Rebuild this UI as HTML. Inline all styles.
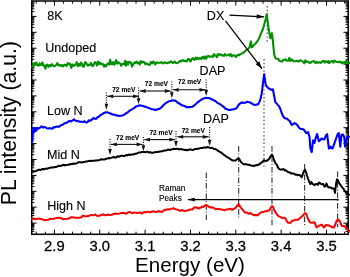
<!DOCTYPE html>
<html><head><meta charset="utf-8"><style>
html,body{margin:0;padding:0;background:#fff;width:350px;height:277px;overflow:hidden;}
svg{display:block;will-change:transform;filter:blur(0.3px);}
</style></head><body>
<svg width="350" height="277" viewBox="0 0 350 277"><style>text{stroke:#000;stroke-width:0.12px;paint-order:stroke;}.tl{stroke-width:0.26px}.ax{stroke-width:0.02px}</style>
<rect width="350" height="277" fill="#fff"/>
<line x1="267.2" y1="6.0" x2="267.2" y2="44.0" stroke="#333" stroke-width="1.1" stroke-dasharray="1.4,2.4"/>
<line x1="264.0" y1="59.0" x2="264.0" y2="169.0" stroke="#333" stroke-width="1.1" stroke-dasharray="1.4,2.4"/>
<line x1="206.3" y1="172.5" x2="206.3" y2="220.0" stroke="#333" stroke-width="1.1" stroke-dasharray="5.7,1.9,1,1.9"/>
<line x1="238.7" y1="146.0" x2="238.7" y2="218.5" stroke="#333" stroke-width="1.1" stroke-dasharray="5.7,1.9,1,1.9"/>
<line x1="272.0" y1="146.0" x2="272.0" y2="226.0" stroke="#333" stroke-width="1.1" stroke-dasharray="5.7,1.9,1,1.9"/>
<line x1="304.6" y1="164.0" x2="304.6" y2="226.0" stroke="#333" stroke-width="1.1" stroke-dasharray="5.7,1.9,1,1.9"/>
<line x1="337.6" y1="171.5" x2="337.6" y2="227.0" stroke="#333" stroke-width="1.1" stroke-dasharray="5.7,1.9,1,1.9"/>
<path d="M36.26 234.30v-2.60 M36.26 1.00v2.60 M45.33 234.30v-2.60 M45.33 1.00v2.60 M54.40 234.30v-4.60 M54.40 1.00v4.60 M63.47 234.30v-2.60 M63.47 1.00v2.60 M72.54 234.30v-2.60 M72.54 1.00v2.60 M81.61 234.30v-2.60 M81.61 1.00v2.60 M90.68 234.30v-2.60 M90.68 1.00v2.60 M99.75 234.30v-4.60 M99.75 1.00v4.60 M108.82 234.30v-2.60 M108.82 1.00v2.60 M117.89 234.30v-2.60 M117.89 1.00v2.60 M126.96 234.30v-2.60 M126.96 1.00v2.60 M136.03 234.30v-2.60 M136.03 1.00v2.60 M145.10 234.30v-4.60 M145.10 1.00v4.60 M154.17 234.30v-2.60 M154.17 1.00v2.60 M163.24 234.30v-2.60 M163.24 1.00v2.60 M172.31 234.30v-2.60 M172.31 1.00v2.60 M181.38 234.30v-2.60 M181.38 1.00v2.60 M190.45 234.30v-4.60 M190.45 1.00v4.60 M199.52 234.30v-2.60 M199.52 1.00v2.60 M208.59 234.30v-2.60 M208.59 1.00v2.60 M217.66 234.30v-2.60 M217.66 1.00v2.60 M226.73 234.30v-2.60 M226.73 1.00v2.60 M235.80 234.30v-4.60 M235.80 1.00v4.60 M244.87 234.30v-2.60 M244.87 1.00v2.60 M253.94 234.30v-2.60 M253.94 1.00v2.60 M263.01 234.30v-2.60 M263.01 1.00v2.60 M272.08 234.30v-2.60 M272.08 1.00v2.60 M281.15 234.30v-4.60 M281.15 1.00v4.60 M290.22 234.30v-2.60 M290.22 1.00v2.60 M299.29 234.30v-2.60 M299.29 1.00v2.60 M308.36 234.30v-2.60 M308.36 1.00v2.60 M317.43 234.30v-2.60 M317.43 1.00v2.60 M326.50 234.30v-4.60 M326.50 1.00v4.60 M335.57 234.30v-2.60 M335.57 1.00v2.60 M344.64 234.30v-2.60 M344.64 1.00v2.60 M31.75 16.40h4.80 M348.20 16.40h-4.80 M31.75 11.61h2.60 M348.20 11.61h-2.60 M31.75 8.81h2.60 M348.20 8.81h-2.60 M31.75 6.83h2.60 M348.20 6.83h-2.60 M31.75 5.29h2.60 M348.20 5.29h-2.60 M31.75 4.03h2.60 M348.20 4.03h-2.60 M31.75 2.96h2.60 M348.20 2.96h-2.60 M31.75 2.04h2.60 M348.20 2.04h-2.60 M31.75 32.30h4.80 M348.20 32.30h-4.80 M31.75 27.51h2.60 M348.20 27.51h-2.60 M31.75 24.71h2.60 M348.20 24.71h-2.60 M31.75 22.73h2.60 M348.20 22.73h-2.60 M31.75 21.19h2.60 M348.20 21.19h-2.60 M31.75 19.93h2.60 M348.20 19.93h-2.60 M31.75 18.86h2.60 M348.20 18.86h-2.60 M31.75 17.94h2.60 M348.20 17.94h-2.60 M31.75 17.13h2.60 M348.20 17.13h-2.60 M31.75 48.20h4.80 M348.20 48.20h-4.80 M31.75 43.41h2.60 M348.20 43.41h-2.60 M31.75 40.61h2.60 M348.20 40.61h-2.60 M31.75 38.63h2.60 M348.20 38.63h-2.60 M31.75 37.09h2.60 M348.20 37.09h-2.60 M31.75 35.83h2.60 M348.20 35.83h-2.60 M31.75 34.76h2.60 M348.20 34.76h-2.60 M31.75 33.84h2.60 M348.20 33.84h-2.60 M31.75 33.03h2.60 M348.20 33.03h-2.60 M31.75 64.10h4.80 M348.20 64.10h-4.80 M31.75 59.31h2.60 M348.20 59.31h-2.60 M31.75 56.51h2.60 M348.20 56.51h-2.60 M31.75 54.53h2.60 M348.20 54.53h-2.60 M31.75 52.99h2.60 M348.20 52.99h-2.60 M31.75 51.73h2.60 M348.20 51.73h-2.60 M31.75 50.66h2.60 M348.20 50.66h-2.60 M31.75 49.74h2.60 M348.20 49.74h-2.60 M31.75 48.93h2.60 M348.20 48.93h-2.60 M31.75 80.00h4.80 M348.20 80.00h-4.80 M31.75 75.21h2.60 M348.20 75.21h-2.60 M31.75 72.41h2.60 M348.20 72.41h-2.60 M31.75 70.43h2.60 M348.20 70.43h-2.60 M31.75 68.89h2.60 M348.20 68.89h-2.60 M31.75 67.63h2.60 M348.20 67.63h-2.60 M31.75 66.56h2.60 M348.20 66.56h-2.60 M31.75 65.64h2.60 M348.20 65.64h-2.60 M31.75 64.83h2.60 M348.20 64.83h-2.60 M31.75 95.90h4.80 M348.20 95.90h-4.80 M31.75 91.11h2.60 M348.20 91.11h-2.60 M31.75 88.31h2.60 M348.20 88.31h-2.60 M31.75 86.33h2.60 M348.20 86.33h-2.60 M31.75 84.79h2.60 M348.20 84.79h-2.60 M31.75 83.53h2.60 M348.20 83.53h-2.60 M31.75 82.46h2.60 M348.20 82.46h-2.60 M31.75 81.54h2.60 M348.20 81.54h-2.60 M31.75 80.73h2.60 M348.20 80.73h-2.60 M31.75 111.80h4.80 M348.20 111.80h-4.80 M31.75 107.01h2.60 M348.20 107.01h-2.60 M31.75 104.21h2.60 M348.20 104.21h-2.60 M31.75 102.23h2.60 M348.20 102.23h-2.60 M31.75 100.69h2.60 M348.20 100.69h-2.60 M31.75 99.43h2.60 M348.20 99.43h-2.60 M31.75 98.36h2.60 M348.20 98.36h-2.60 M31.75 97.44h2.60 M348.20 97.44h-2.60 M31.75 96.63h2.60 M348.20 96.63h-2.60 M31.75 127.70h4.80 M348.20 127.70h-4.80 M31.75 122.91h2.60 M348.20 122.91h-2.60 M31.75 120.11h2.60 M348.20 120.11h-2.60 M31.75 118.13h2.60 M348.20 118.13h-2.60 M31.75 116.59h2.60 M348.20 116.59h-2.60 M31.75 115.33h2.60 M348.20 115.33h-2.60 M31.75 114.26h2.60 M348.20 114.26h-2.60 M31.75 113.34h2.60 M348.20 113.34h-2.60 M31.75 112.53h2.60 M348.20 112.53h-2.60 M31.75 143.60h4.80 M348.20 143.60h-4.80 M31.75 138.81h2.60 M348.20 138.81h-2.60 M31.75 136.01h2.60 M348.20 136.01h-2.60 M31.75 134.03h2.60 M348.20 134.03h-2.60 M31.75 132.49h2.60 M348.20 132.49h-2.60 M31.75 131.23h2.60 M348.20 131.23h-2.60 M31.75 130.16h2.60 M348.20 130.16h-2.60 M31.75 129.24h2.60 M348.20 129.24h-2.60 M31.75 128.43h2.60 M348.20 128.43h-2.60 M31.75 159.50h4.80 M348.20 159.50h-4.80 M31.75 154.71h2.60 M348.20 154.71h-2.60 M31.75 151.91h2.60 M348.20 151.91h-2.60 M31.75 149.93h2.60 M348.20 149.93h-2.60 M31.75 148.39h2.60 M348.20 148.39h-2.60 M31.75 147.13h2.60 M348.20 147.13h-2.60 M31.75 146.06h2.60 M348.20 146.06h-2.60 M31.75 145.14h2.60 M348.20 145.14h-2.60 M31.75 144.33h2.60 M348.20 144.33h-2.60 M31.75 175.40h4.80 M348.20 175.40h-4.80 M31.75 170.61h2.60 M348.20 170.61h-2.60 M31.75 167.81h2.60 M348.20 167.81h-2.60 M31.75 165.83h2.60 M348.20 165.83h-2.60 M31.75 164.29h2.60 M348.20 164.29h-2.60 M31.75 163.03h2.60 M348.20 163.03h-2.60 M31.75 161.96h2.60 M348.20 161.96h-2.60 M31.75 161.04h2.60 M348.20 161.04h-2.60 M31.75 160.23h2.60 M348.20 160.23h-2.60 M31.75 191.30h4.80 M348.20 191.30h-4.80 M31.75 186.51h2.60 M348.20 186.51h-2.60 M31.75 183.71h2.60 M348.20 183.71h-2.60 M31.75 181.73h2.60 M348.20 181.73h-2.60 M31.75 180.19h2.60 M348.20 180.19h-2.60 M31.75 178.93h2.60 M348.20 178.93h-2.60 M31.75 177.86h2.60 M348.20 177.86h-2.60 M31.75 176.94h2.60 M348.20 176.94h-2.60 M31.75 176.13h2.60 M348.20 176.13h-2.60 M31.75 207.20h4.80 M348.20 207.20h-4.80 M31.75 202.41h2.60 M348.20 202.41h-2.60 M31.75 199.61h2.60 M348.20 199.61h-2.60 M31.75 197.63h2.60 M348.20 197.63h-2.60 M31.75 196.09h2.60 M348.20 196.09h-2.60 M31.75 194.83h2.60 M348.20 194.83h-2.60 M31.75 193.76h2.60 M348.20 193.76h-2.60 M31.75 192.84h2.60 M348.20 192.84h-2.60 M31.75 192.03h2.60 M348.20 192.03h-2.60 M31.75 223.10h4.80 M348.20 223.10h-4.80 M31.75 218.31h2.60 M348.20 218.31h-2.60 M31.75 215.51h2.60 M348.20 215.51h-2.60 M31.75 213.53h2.60 M348.20 213.53h-2.60 M31.75 211.99h2.60 M348.20 211.99h-2.60 M31.75 210.73h2.60 M348.20 210.73h-2.60 M31.75 209.66h2.60 M348.20 209.66h-2.60 M31.75 208.74h2.60 M348.20 208.74h-2.60 M31.75 207.93h2.60 M348.20 207.93h-2.60 M31.75 231.41h2.60 M348.20 231.41h-2.60 M31.75 229.43h2.60 M348.20 229.43h-2.60 M31.75 227.89h2.60 M348.20 227.89h-2.60 M31.75 226.63h2.60 M348.20 226.63h-2.60 M31.75 225.56h2.60 M348.20 225.56h-2.60 M31.75 224.64h2.60 M348.20 224.64h-2.60 M31.75 223.83h2.60 M348.20 223.83h-2.60" stroke="#000" stroke-width="1.0" fill="none"/>
<rect x="31.75" y="1.00" width="316.45" height="233.30" fill="none" stroke="#000" stroke-width="1.5"/>
<polyline points="32.0,67.0 32.5,67.2 33.1,65.0 33.7,63.7 34.3,63.1 35.0,64.9 35.7,63.2 36.4,62.6 37.2,65.2 38.0,65.1 38.8,65.7 39.7,63.4 40.6,64.9 41.5,64.8 42.4,62.4 43.4,65.7 44.4,65.4 45.4,68.7 46.4,65.2 47.4,64.6 48.5,66.8 49.6,65.1 50.7,66.3 51.8,64.2 52.9,65.2 54.0,66.4 55.1,65.9 56.3,65.0 57.4,63.1 58.6,65.5 59.7,64.9 60.9,65.9 62.1,65.1 63.2,66.5 64.4,64.7 65.6,65.1 66.7,65.8 67.9,63.0 69.0,64.1 70.2,63.9 71.3,67.9 72.5,64.5 73.6,65.7 74.7,65.7 75.8,64.2 76.9,62.2 77.9,66.2 79.0,64.0 80.0,65.7 81.0,62.5 82.0,63.9 83.0,66.6 83.9,66.8 84.9,62.4 85.9,62.4 86.9,64.4 87.9,65.7 88.9,64.7 89.9,64.9 90.9,62.9 91.9,65.4 93.0,66.2 94.0,63.7 95.0,62.1 96.0,63.1 97.0,65.6 98.0,61.5 99.0,64.2 100.0,62.7 101.1,64.1 102.1,63.9 103.1,64.3 104.1,66.6 105.1,64.9 106.1,66.3 107.2,63.9 108.2,63.4 109.2,64.7 110.2,59.9 111.2,64.0 112.2,64.3 113.2,62.0 114.2,64.7 115.2,63.1 116.2,60.0 117.2,63.6 118.2,62.3 119.2,63.0 120.2,63.6 121.2,65.8 122.2,64.0 123.2,63.7 124.2,64.4 125.2,60.8 126.1,65.7 127.1,62.0 128.1,64.4 129.0,61.8 130.0,62.0 131.0,62.9 132.1,66.6 133.2,64.6 134.3,62.5 135.3,63.0 136.4,61.6 137.5,63.3 138.7,62.4 139.8,64.5 140.9,61.1 142.0,62.7 143.1,61.9 144.2,62.0 145.4,64.3 146.5,63.3 147.6,64.0 148.7,64.9 149.8,64.8 151.0,61.9 152.1,63.4 153.2,61.5 154.3,62.8 155.3,64.4 156.4,62.6 157.5,62.5 158.5,62.8 159.6,62.7 160.6,62.7 161.6,62.0 162.6,63.4 163.6,63.2 164.6,62.3 165.5,62.7 166.5,62.9 167.4,63.2 168.3,62.6 169.2,62.8 170.0,62.0 170.9,61.3 171.7,61.8 172.5,62.9 173.2,62.9 174.0,62.1 174.7,61.5 175.3,62.2 176.0,63.2 178.1,62.8 179.8,61.0 181.2,61.4 182.3,60.1 183.3,60.2 184.0,61.1 184.7,60.8 185.3,61.3 185.8,61.4 186.4,60.9 187.0,61.1 187.7,59.4 188.6,58.8 189.6,59.9 190.5,61.4 191.5,59.5 192.5,58.1 193.5,59.1 194.5,59.8 195.4,57.7 196.4,59.0 197.4,57.7 198.4,59.1 199.4,58.5 200.3,58.0 201.3,59.2 202.3,57.1 203.2,56.8 204.2,58.7 205.2,56.4 206.1,58.7 207.1,56.8 208.1,55.9 209.1,56.6 210.0,56.6 211.0,56.6 212.0,56.2 212.9,57.1 213.9,54.2 214.9,55.5 215.9,55.6 216.9,57.2 217.9,54.0 218.9,55.1 219.9,54.4 221.0,54.6 222.0,55.5 222.9,55.2 223.9,55.9 224.8,54.2 225.7,54.9 226.6,55.5 227.7,55.3 228.8,54.4 229.8,55.7 230.9,54.1 231.8,56.5 232.8,55.3 233.7,55.2 234.5,55.6 235.3,56.2 236.0,56.9 237.4,55.2 238.4,54.8 239.2,55.2 240.0,54.3 241.0,53.9 241.9,53.5 242.8,53.0 243.6,52.5 244.5,51.8 245.3,51.0 246.1,50.3 247.0,49.6 247.9,49.0 248.6,48.4 249.3,47.6 249.8,46.5 250.4,43.5 250.9,41.4 251.8,47.1 252.7,46.7 253.7,45.2 254.5,44.5 255.3,43.7 256.2,42.7 257.1,41.6 257.9,40.3 258.7,38.9 259.7,36.7 260.6,34.5 261.3,32.6 262.0,31.0 262.6,29.8 263.2,28.5 263.7,26.4 264.3,24.0 265.1,21.3 265.9,18.6 266.7,14.3 267.6,20.8 268.6,28.4 269.2,31.9 269.7,34.9 270.4,38.3 271.1,35.5 271.9,33.2 272.9,41.0 273.4,46.6 274.0,52.0 274.5,55.6 275.4,58.0 276.2,58.6 277.2,58.8 278.3,58.8 279.2,60.7 280.1,61.2 280.9,61.3 281.7,61.2 282.4,61.5 283.2,59.9 284.2,59.8 284.9,59.6 285.6,59.3 286.4,60.6 287.3,60.7 288.3,60.4 289.3,57.8 290.1,61.1 290.8,60.2 291.5,59.4 292.3,59.9 293.2,61.1 294.2,61.3 295.4,61.3 296.9,60.8 297.6,60.8 298.4,61.6 299.3,60.9 300.2,60.3 301.1,60.6 302.1,61.1 303.2,61.6 304.2,63.3 305.3,60.3 306.3,61.9 307.4,61.5 308.5,61.9 309.6,62.9 310.6,62.9 311.7,61.7 312.7,61.5 313.7,60.8 314.6,61.9 315.6,63.1 316.7,61.8 317.7,62.6 318.7,62.6 319.8,62.3 320.8,62.9 321.8,61.8 322.8,61.2 323.8,60.8 324.7,62.6 325.7,61.4 326.6,61.4 327.5,62.4 328.4,61.0 329.2,63.1 330.0,62.2 331.2,61.2 332.3,61.1 333.4,62.6 334.4,60.7 335.3,61.2 336.2,61.8 337.1,62.0 338.0,61.9 338.9,62.3 339.9,61.7 340.9,61.9 342.0,63.2 343.1,62.7 344.2,61.8 345.3,63.7 346.4,60.6 347.3,62.5 348.2,63.0 348.9,63.3 349.5,62.6" fill="none" stroke="#009000" stroke-width="2.1" stroke-linejoin="round" stroke-linecap="round"/>
<polyline points="32.4,141.6 32.6,134.0 32.8,128.0 33.5,132.5 34.2,128.0 35.0,131.5 35.8,128.2 36.5,130.5 37.3,127.8 38.5,128.6 40.0,127.7 41.5,126.3 43.3,127.7 44.2,127.0 45.1,127.0 46.9,128.3 48.4,128.5 50.0,128.1 51.1,128.6 52.0,128.8 53.0,127.9 54.0,127.1 54.8,127.5 56.0,126.7 57.2,126.4 58.8,126.8 60.5,125.6 62.0,125.1 63.8,123.9 65.5,122.8 67.0,122.7 68.6,121.3 70.0,121.0 71.2,121.4 72.5,120.5 74.0,119.4 75.4,120.8 76.9,120.9 78.5,121.2 80.0,121.7 81.5,121.7 83.1,122.0 84.6,121.3 86.0,122.5 87.5,122.2 88.7,120.3 90.0,120.9 91.4,120.0 92.9,118.5 94.0,118.1 95.0,118.8 96.1,118.9 97.5,117.2 98.9,116.8 100.2,115.2 101.4,114.6 102.7,113.8 104.0,112.9 105.3,112.4 106.6,112.3 107.9,112.5 109.1,113.0 110.4,113.5 111.6,114.0 112.9,114.6 114.3,114.7 115.6,115.4 117.2,115.4 118.7,116.0 120.1,115.7 121.7,115.7 123.2,115.1 124.6,114.3 125.9,113.5 127.2,112.7 128.4,111.7 129.7,110.7 131.0,109.8 132.3,109.1 133.6,108.4 134.9,107.4 136.1,106.4 137.8,105.9 139.5,105.3 141.0,105.6 142.7,105.7 144.3,106.6 146.2,106.9 147.9,107.8 149.3,108.1 150.5,108.6 151.7,109.3 153.0,109.2 154.3,109.7 155.6,109.9 156.9,109.4 158.1,109.1 159.4,108.9 160.7,107.8 162.0,106.8 163.3,105.3 164.5,104.3 165.7,103.1 167.1,102.4 168.8,101.3 170.6,101.0 172.3,100.2 173.7,100.6 174.9,100.5 176.1,101.2 177.7,102.6 179.3,103.5 180.6,104.3 182.0,105.3 183.6,105.8 185.0,106.1 186.4,107.1 187.9,107.0 189.3,107.1 190.8,107.0 192.2,106.7 193.6,106.0 195.0,104.7 196.5,103.5 197.9,102.1 199.3,101.1 200.7,100.2 202.1,99.2 203.5,98.6 204.9,98.0 206.4,97.9 207.7,98.0 209.2,98.2 210.6,98.6 212.1,99.5 213.6,100.1 215.2,101.0 216.7,102.2 217.9,103.2 219.1,103.5 220.0,104.2 221.2,105.0 222.6,106.2 223.9,107.0 225.5,108.7 227.1,109.3 228.7,109.9 230.3,110.0 231.6,109.5 232.9,109.4 234.5,109.0 236.1,108.5 237.1,107.3 238.0,105.9 239.3,104.2 240.6,103.1 241.8,102.4 243.1,102.9 244.3,102.7 245.7,102.6 247.0,101.7 248.3,102.1 249.6,102.2 250.8,103.0 252.1,103.7 253.4,104.6 255.0,105.0 256.6,104.6 257.7,104.4 258.6,103.6 259.6,101.4 260.5,99.1 261.8,93.2 262.9,83.5 264.2,74.2 265.5,83.6 266.4,85.9 267.7,87.6 269.0,88.5 270.4,89.2 271.6,90.0 272.9,89.3 274.0,95.1 275.4,102.3 276.6,103.4 278.0,105.1 279.3,106.6 280.5,109.5 281.7,113.0 283.1,116.3 284.9,118.3 286.8,118.6 288.3,120.0 290.0,121.3 290.8,123.3 291.8,124.9 293.1,124.1 294.5,123.1 295.9,123.7 297.2,124.9 298.5,126.8 299.9,128.6 301.1,129.0 302.4,129.1 303.6,129.5 305.1,131.4 306.3,133.1 307.3,132.6 308.1,132.2 309.5,136.7 310.4,148.5 311.7,152.1 313.1,140.3 314.4,143.0 315.7,138.2 317.1,134.0 318.9,141.2 320.2,140.2 321.6,138.5 323.0,139.1 324.4,139.4 325.8,135.9 327.1,134.0 328.9,148.5 329.8,148.3 330.7,146.6 331.5,148.1 332.5,148.5 333.6,145.9 334.9,141.9 336.1,138.5 337.6,134.3 338.8,133.1 340.3,146.6 341.5,134.9 342.9,134.4 344.2,136.7 345.1,146.6 346.0,142.8 347.0,137.6 348.1,136.6 349.0,136.7" fill="none" stroke="#0000ff" stroke-width="2.1" stroke-linejoin="round" stroke-linecap="round"/>
<polyline points="32.5,171.8 33.2,171.8 34.1,171.4 35.2,171.2 36.5,170.9 37.9,170.0 39.4,169.6 40.5,170.1 41.6,169.3 42.9,169.0 44.2,169.4 45.5,168.7 46.9,168.8 48.3,168.2 49.6,168.1 50.9,167.4 52.2,167.6 53.5,167.5 54.9,166.9 56.3,166.9 57.6,166.5 58.9,165.7 60.2,166.1 61.3,165.8 62.3,165.3 63.6,164.8 64.4,165.4 65.0,165.0 66.1,165.0 68.0,164.8 68.9,164.5 69.9,164.6 71.0,163.9 72.3,164.1 73.6,163.5 74.9,163.7 76.3,163.5 77.8,162.5 79.2,162.3 80.6,162.2 82.0,162.6 83.4,161.9 84.7,161.9 85.9,161.4 87.0,161.4 88.6,161.1 90.0,160.8 91.4,160.9 92.8,160.7 94.1,160.8 95.3,160.5 96.5,160.6 97.7,160.3 98.8,160.3 100.0,159.9 101.4,159.2 102.7,159.6 104.0,159.5 105.2,159.2 106.4,158.7 107.6,158.6 108.8,158.0 110.0,158.3 111.2,157.9 112.5,157.4 113.8,157.0 115.0,157.5 116.2,157.4 117.5,156.3 118.8,156.8 120.0,156.2 121.2,155.8 122.4,155.8 123.6,156.0 124.8,155.9 126.0,155.0 127.3,155.4 128.6,154.6 130.0,155.0 131.2,154.4 132.4,154.6 133.7,154.4 135.1,153.7 136.4,153.8 137.8,152.9 139.2,152.4 140.5,152.6 141.8,151.9 143.0,151.9 144.3,152.0 145.6,152.2 146.9,151.8 148.1,151.8 149.3,152.6 150.5,152.2 151.7,152.8 152.8,152.8 154.0,152.3 155.3,152.2 156.5,152.1 157.7,152.0 158.9,151.7 160.1,151.4 161.4,151.2 162.7,151.2 164.0,150.6 165.1,150.4 166.3,150.4 167.5,149.8 168.7,149.6 169.9,150.1 171.1,149.5 172.3,149.3 173.6,148.7 174.8,149.0 176.0,149.1 177.2,148.6 178.4,149.2 179.7,149.3 180.9,148.9 182.1,149.6 183.3,149.6 184.5,149.9 185.7,149.8 186.9,150.2 188.0,150.2 189.4,149.5 190.7,149.5 192.0,149.9 193.3,150.0 194.6,149.1 195.8,149.1 196.9,149.1 198.0,148.6 199.3,148.4 200.6,148.1 201.7,147.9 202.8,147.9 203.9,147.4 205.0,147.4 206.3,147.7 207.6,147.0 208.9,147.5 210.1,147.9 211.4,147.7 212.7,148.0 214.0,149.0 215.3,149.1 216.6,149.7 217.9,150.6 219.2,151.6 220.5,152.1 221.7,153.1 223.0,154.0 224.3,155.2 225.6,155.9 227.0,157.1 228.3,157.6 229.6,158.5 230.7,159.4 232.0,160.2 233.1,160.4 234.1,160.5 235.0,160.6 236.1,160.3 236.8,159.3 237.5,158.9 238.2,158.4 239.3,159.1 240.4,161.1 241.3,162.3 242.4,163.3 243.6,164.2 244.6,164.2 245.7,164.2 246.8,164.3 247.9,164.8 249.0,164.7 250.0,165.1 251.0,165.5 252.1,165.7 253.2,165.7 254.2,166.0 255.3,165.4 256.4,165.0 257.5,165.2 258.6,164.6 259.7,164.0 260.7,163.1 261.9,162.4 262.9,161.3 263.9,160.2 265.0,160.7 266.1,161.0 267.1,160.5 268.2,159.8 269.3,158.8 270.6,156.3 271.9,154.8 272.8,156.1 273.7,159.0 274.6,161.3 275.7,163.6 276.9,164.8 277.9,167.3 278.5,168.2 279.3,169.1 280.2,169.4 281.3,169.6 282.5,169.4 283.6,169.0 284.7,170.4 285.8,170.3 286.8,171.0 287.9,172.0 289.0,172.3 290.0,172.5 291.0,173.5 292.1,173.4 293.2,173.5 294.3,173.7 295.4,174.7 296.4,174.6 297.6,175.2 298.6,174.9 299.6,175.0 300.8,176.3 301.8,177.1 302.9,174.0 303.9,171.2 305.0,169.6 306.0,172.2 307.1,176.0 308.2,179.0 309.3,181.8 310.3,184.0 311.4,182.1 312.4,183.8 313.6,184.4 314.5,185.1 315.6,184.3 316.8,184.0 317.9,184.8 319.0,182.5 320.0,183.1 321.0,183.9 322.1,184.2 323.2,184.0 324.4,186.7 325.5,186.1 326.4,183.5 327.6,186.4 328.6,187.3 329.6,187.5 330.8,187.4 331.8,188.4 333.1,188.2 334.2,189.0 335.0,193.0 335.8,186.0 336.4,181.9 337.1,179.3 338.2,180.8 339.3,183.4 340.4,184.7 341.4,186.3 342.5,187.7 343.6,189.0 344.6,190.9 345.7,191.9 346.8,193.6 348.1,194.3 349.0,194.7" fill="none" stroke="#000" stroke-width="2.0" stroke-linejoin="round" stroke-linecap="round"/>
<polyline points="32.0,218.9 33.3,218.6 35.1,219.2 37.3,218.8 39.6,218.6 42.0,219.2 44.3,220.2 46.2,219.9 48.2,219.8 50.3,218.6 52.4,219.1 54.5,218.4 56.5,218.1 58.6,217.8 60.6,217.9 62.7,219.2 64.7,218.9 66.8,218.8 68.8,218.6 70.9,217.3 72.9,217.3 74.9,217.7 77.0,217.7 79.0,217.7 81.0,217.4 83.0,215.6 85.1,216.3 87.1,216.2 89.1,215.7 91.2,214.9 93.2,215.4 95.3,214.5 97.3,216.0 99.4,215.8 101.4,215.0 103.4,214.3 105.5,215.4 107.5,214.6 109.6,215.0 111.6,214.8 113.7,214.0 115.7,213.6 117.8,213.9 119.9,213.4 122.1,212.7 124.2,212.9 126.2,213.8 128.2,212.2 130.0,212.1 132.3,213.2 134.3,212.4 136.2,212.9 138.1,212.7 140.0,212.4 142.0,213.6 144.0,211.9 146.0,212.2 148.0,211.6 150.0,212.4 152.1,211.5 154.2,211.5 156.3,212.1 158.3,211.1 160.0,211.4 162.3,211.9 164.1,210.1 166.0,209.7 167.9,209.3 169.9,209.4 172.0,208.6 173.8,208.3 175.8,209.3 177.8,209.9 180.0,210.9 181.9,210.0 183.9,210.9 186.0,210.8 188.1,210.3 190.0,209.5 192.3,209.5 194.6,207.3 196.7,207.5 198.6,208.5 200.7,207.6 202.3,206.6 203.7,206.9 205.1,205.4 206.2,205.0 207.3,205.4 208.7,206.7 210.1,207.4 211.7,207.2 213.7,207.9 215.5,209.2 217.5,209.0 219.5,209.1 221.3,209.5 223.1,209.7 224.5,210.3 226.3,209.4 228.1,209.2 230.2,208.7 232.2,209.8 233.8,208.8 235.4,208.0 236.3,207.0 237.6,205.1 238.9,204.1 240.1,206.6 241.4,208.4 243.2,210.3 245.1,212.6 246.8,212.6 248.9,213.8 250.4,213.0 252.3,214.3 254.1,215.2 255.8,214.9 257.7,215.2 259.5,213.5 261.2,212.3 263.1,212.1 265.0,211.2 266.6,211.3 268.1,210.5 269.3,210.5 270.6,208.0 272.0,206.0 273.3,207.5 274.7,211.1 276.6,214.0 278.8,216.4 280.5,217.0 282.4,218.1 284.2,217.6 285.8,219.0 287.3,222.2 288.8,222.8 290.4,223.0 291.9,220.9 293.6,220.6 295.5,219.7 297.5,219.7 299.0,219.2 300.7,217.3 301.8,216.5 303.0,215.5 304.2,213.8 305.5,213.0 306.8,215.5 308.0,218.8 310.1,222.5 312.3,222.7 314.5,222.2 316.6,227.5 318.8,226.0 320.3,225.0 321.7,224.6 323.8,227.5 326.0,225.0 328.1,225.2 330.3,226.0 332.2,227.3 334.0,227.5 335.5,224.0 336.8,220.3 338.3,219.6 339.7,221.0 341.9,226.0 343.0,226.1 344.1,226.0 345.5,227.3 347.0,229.0 348.6,230.6 349.9,231.8" fill="none" stroke="#ff0000" stroke-width="2.0" stroke-linejoin="round" stroke-linecap="round"/>
<line x1="229.5" y1="15.2" x2="264.2" y2="16.8" stroke="#000" stroke-width="1.25"/>
<polygon points="264.20,16.80 256.60,18.75 256.81,14.16" fill="#000"/>
<line x1="225.5" y1="20.8" x2="262.0" y2="68.7" stroke="#000" stroke-width="1.25"/>
<polygon points="262.00,68.70 255.62,64.13 259.28,61.34" fill="#000"/>
<line x1="338.6" y1="199.6" x2="187.8" y2="199.6" stroke="#000" stroke-width="1.15"/>
<polygon points="187.80,199.60 194.80,197.70 194.80,201.50" fill="#000"/>
<line x1="106.4" y1="92.5" x2="106.4" y2="104.8" stroke="#111" stroke-width="1.15" stroke-dasharray="1.1,1.3"/>
<polygon points="106.40,109.80 104.60,103.80 108.20,103.80" fill="#111"/>
<line x1="138.6" y1="87.5" x2="138.6" y2="99.2" stroke="#111" stroke-width="1.15" stroke-dasharray="1.1,1.3"/>
<polygon points="138.60,104.20 136.80,98.20 140.40,98.20" fill="#111"/>
<line x1="171.8" y1="81.5" x2="171.8" y2="93.3" stroke="#111" stroke-width="1.15" stroke-dasharray="1.1,1.3"/>
<polygon points="171.80,98.30 170.00,92.30 173.60,92.30" fill="#111"/>
<line x1="206.2" y1="79.5" x2="206.2" y2="91.0" stroke="#111" stroke-width="1.15" stroke-dasharray="1.1,1.3"/>
<polygon points="206.20,96.00 204.40,90.00 208.00,90.00" fill="#111"/>
<line x1="107.4" y1="96.3" x2="139.0" y2="96.3" stroke="#111" stroke-width="1.1"/>
<polygon points="139.00,96.30 133.20,98.20 133.20,94.40" fill="#111"/>
<polygon points="107.40,96.30 113.20,94.40 113.20,98.20" fill="#111"/>
<line x1="139.8" y1="91.0" x2="170.6" y2="91.0" stroke="#111" stroke-width="1.1"/>
<polygon points="170.60,91.00 164.80,92.90 164.80,89.10" fill="#111"/>
<polygon points="139.80,91.00 145.60,89.10 145.60,92.90" fill="#111"/>
<line x1="172.8" y1="89.8" x2="205.3" y2="89.8" stroke="#111" stroke-width="1.1"/>
<polygon points="205.30,89.80 199.50,91.70 199.50,87.90" fill="#111"/>
<polygon points="172.80,89.80 178.60,87.90 178.60,91.70" fill="#111"/>
<line x1="110.0" y1="139.0" x2="110.0" y2="150.0" stroke="#111" stroke-width="1.15" stroke-dasharray="1.1,1.3"/>
<polygon points="110.00,155.00 108.20,149.00 111.80,149.00" fill="#111"/>
<line x1="143.4" y1="137.0" x2="143.4" y2="146.2" stroke="#111" stroke-width="1.15" stroke-dasharray="1.1,1.3"/>
<polygon points="143.40,151.20 141.60,145.20 145.20,145.20" fill="#111"/>
<line x1="176.0" y1="131.0" x2="176.0" y2="142.0" stroke="#111" stroke-width="1.15" stroke-dasharray="1.1,1.3"/>
<polygon points="176.00,147.00 174.20,141.00 177.80,141.00" fill="#111"/>
<line x1="209.6" y1="127.0" x2="209.6" y2="141.0" stroke="#111" stroke-width="1.15" stroke-dasharray="1.1,1.3"/>
<polygon points="209.60,146.00 207.80,140.00 211.40,140.00" fill="#111"/>
<line x1="111.0" y1="144.4" x2="142.4" y2="144.4" stroke="#111" stroke-width="1.1"/>
<polygon points="142.40,144.40 136.60,146.30 136.60,142.50" fill="#111"/>
<polygon points="111.00,144.40 116.80,142.50 116.80,146.30" fill="#111"/>
<line x1="144.2" y1="139.6" x2="175.2" y2="139.6" stroke="#111" stroke-width="1.1"/>
<polygon points="175.20,139.60 169.40,141.50 169.40,137.70" fill="#111"/>
<polygon points="144.20,139.60 150.00,137.70 150.00,141.50" fill="#111"/>
<line x1="177.4" y1="136.8" x2="208.6" y2="136.8" stroke="#111" stroke-width="1.1"/>
<polygon points="208.60,136.80 202.80,138.70 202.80,134.90" fill="#111"/>
<polygon points="177.40,136.80 183.20,134.90 183.20,138.70" fill="#111"/>
<text x="47.2" y="20.3" font-family="Liberation Sans, sans-serif" font-size="12.6" text-anchor="start" font-weight="normal" >8K</text>
<text x="45.2" y="51.8" font-family="Liberation Sans, sans-serif" font-size="12.6" text-anchor="start" font-weight="normal" >Undoped</text>
<text x="47.0" y="114.8" font-family="Liberation Sans, sans-serif" font-size="12.6" text-anchor="start" font-weight="normal" >Low N</text>
<text x="47.0" y="158.7" font-family="Liberation Sans, sans-serif" font-size="12.6" text-anchor="start" font-weight="normal" >Mid N</text>
<text x="47.2" y="209.9" font-family="Liberation Sans, sans-serif" font-size="12.6" text-anchor="start" font-weight="normal" >High N</text>
<text x="206.8" y="20.0" font-family="Liberation Sans, sans-serif" font-size="12.6" text-anchor="start" font-weight="normal" >DX</text>
<text x="199.6" y="75.4" font-family="Liberation Sans, sans-serif" font-size="12.6" text-anchor="start" font-weight="normal" >DAP</text>
<text x="203.0" y="122.6" font-family="Liberation Sans, sans-serif" font-size="12.6" text-anchor="start" font-weight="normal" >DAP</text>
<text x="159.0" y="191.0" font-family="Liberation Sans, sans-serif" font-size="8.2" text-anchor="start" font-weight="normal" >Raman</text>
<text x="159.0" y="200.6" font-family="Liberation Sans, sans-serif" font-size="8.2" text-anchor="start" font-weight="normal" >Peaks</text>
<text x="123.8" y="91.9" font-family="Liberation Sans, sans-serif" font-size="7.4" text-anchor="middle" font-weight="bold" textLength="23.2" lengthAdjust="spacingAndGlyphs" style="stroke-width:0.12px">72 meV</text>
<text x="156.4" y="86.3" font-family="Liberation Sans, sans-serif" font-size="7.4" text-anchor="middle" font-weight="bold" textLength="23.2" lengthAdjust="spacingAndGlyphs" style="stroke-width:0.12px">72 meV</text>
<text x="189.7" y="83.9" font-family="Liberation Sans, sans-serif" font-size="7.4" text-anchor="middle" font-weight="bold" textLength="23.2" lengthAdjust="spacingAndGlyphs" style="stroke-width:0.12px">72 meV</text>
<text x="127.7" y="139.9" font-family="Liberation Sans, sans-serif" font-size="7.4" text-anchor="middle" font-weight="bold" textLength="23.2" lengthAdjust="spacingAndGlyphs" style="stroke-width:0.12px">72 meV</text>
<text x="161.0" y="134.9" font-family="Liberation Sans, sans-serif" font-size="7.4" text-anchor="middle" font-weight="bold" textLength="23.2" lengthAdjust="spacingAndGlyphs" style="stroke-width:0.12px">72 meV</text>
<text x="193.3" y="132.5" font-family="Liberation Sans, sans-serif" font-size="7.4" text-anchor="middle" font-weight="bold" textLength="23.2" lengthAdjust="spacingAndGlyphs" style="stroke-width:0.12px">72 meV</text>
<text x="54.4" y="251.4" font-family="Liberation Sans, sans-serif" font-size="14.8" text-anchor="middle" font-weight="normal" class="tl">2.9</text>
<text x="99.8" y="251.4" font-family="Liberation Sans, sans-serif" font-size="14.8" text-anchor="middle" font-weight="normal" class="tl">3.0</text>
<text x="145.1" y="251.4" font-family="Liberation Sans, sans-serif" font-size="14.8" text-anchor="middle" font-weight="normal" class="tl">3.1</text>
<text x="190.5" y="251.4" font-family="Liberation Sans, sans-serif" font-size="14.8" text-anchor="middle" font-weight="normal" class="tl">3.2</text>
<text x="235.8" y="251.4" font-family="Liberation Sans, sans-serif" font-size="14.8" text-anchor="middle" font-weight="normal" class="tl">3.3</text>
<text x="281.1" y="251.4" font-family="Liberation Sans, sans-serif" font-size="14.8" text-anchor="middle" font-weight="normal" class="tl">3.4</text>
<text x="326.5" y="251.4" font-family="Liberation Sans, sans-serif" font-size="14.8" text-anchor="middle" font-weight="normal" class="tl">3.5</text>
<text x="190.0" y="272.4" font-family="Liberation Sans, sans-serif" font-size="20.6" text-anchor="middle" font-weight="normal" class="ax">Energy (eV)</text>
<text transform="translate(15.8,123.1) rotate(-90)" font-family="Liberation Sans, sans-serif" font-size="21.2" text-anchor="middle" class="ax">PL intensity (a.u.)</text>
</svg>
</body></html>
